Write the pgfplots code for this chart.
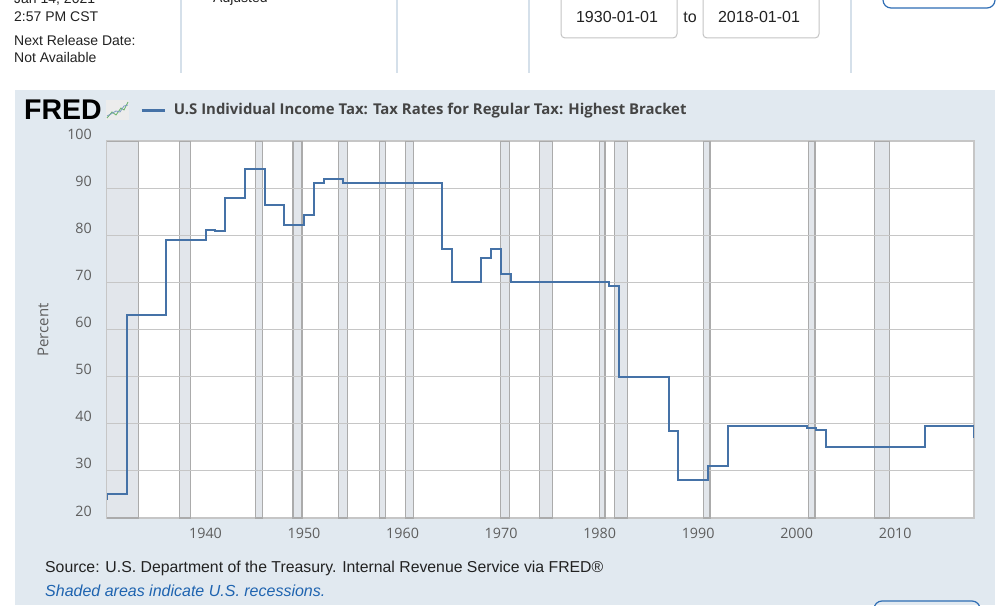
\documentclass[border=0pt]{standalone}
\usepackage{pgfplots}
\pgfplotsset{compat=1.18}
\usepackage{fontspec}
\setmainfont{Open Sans}
\newfontfamily\uifont{Liberation Sans}

\definecolor{fredblue}{HTML}{4572A7}
\definecolor{panelc}{HTML}{E1E9F0}
\definecolor{recfill}{HTML}{E2E6EB}
\definecolor{recedge}{HTML}{ABABAB}
\definecolor{gridc}{HTML}{C6C6C6}
\definecolor{tickc}{HTML}{5E5E5E}
\definecolor{titlec}{HTML}{444444}
\definecolor{sepc}{HTML}{D5E0EA}
\definecolor{boxc}{HTML}{C4C4C4}
\definecolor{btnc}{HTML}{2E6DB4}
\definecolor{notec}{HTML}{1F64B0}
\definecolor{textc}{HTML}{222222}

\pgfplotsset{
  rec/.style={forget plot, fill=recfill, draw=recedge, line width=1.2pt},
  hgrid/.style={forget plot, gridc, line width=1.2pt},
}

\begin{document}
\begin{tikzpicture}[x=1pt, y=1pt]
% page, panel and plot area
\fill[white] (0,0) rectangle (1000,605);
\fill[panelc] (15,0) rectangle (995,515);
\fill[white] (107,87) rectangle (974,464);

\begin{axis}[
    at={(107pt,87pt)}, anchor=south west,
    width=867pt, height=377pt, scale only axis,
    xmin=1930, xmax=2018,
    ymin=20, ymax=100,
    xtick={1940,1950,...,2010},
    ytick={20,30,...,100},
    major tick length=0pt,
    /pgf/number format/assume math mode=true,
    x tick label style={/pgf/number format/1000 sep={}},
    tick label style={font=\fontsize{14.3}{16}\selectfont, text=tickc},
    xticklabel style={inner sep=0pt, anchor=north, yshift=-10pt},
    yticklabel style={inner sep=0pt, anchor=east, xshift=-15pt, yshift=7pt},
    axis line style={gridc, line width=1.2pt},
    ylabel={Percent},
    every axis y label/.style={at={(axis description cs:-0.0738,0.4987)}, rotate=90, anchor=center,
        font=\fontsize{15}{17}\selectfont, text=tickc},
    legend style={at={(axis description cs:0,1)}, anchor=west, xshift=33pt, yshift=31pt,
        draw=none, fill=none, inner sep=0pt, outer sep=0pt,
        nodes={inner sep=0pt, text=titlec, font=\bfseries\fontsize{14.9}{17}\selectfont},
        column sep=8pt},
    legend image code/.code={\draw[fredblue, line width=3pt] (0pt,0pt) -- (23pt,0pt);},
]
% recessions
\addplot[rec] coordinates {(1929.6,20)(1929.6,100)(1933.17,100)(1933.17,20)} -- cycle;
\addplot[rec] coordinates {(1937.37,20)(1937.37,100)(1938.45,100)(1938.45,20)} -- cycle;
\addplot[rec] coordinates {(1945.08,20)(1945.08,100)(1945.75,100)(1945.75,20)} -- cycle;
\addplot[rec] coordinates {(1948.87,20)(1948.87,100)(1949.79,100)(1949.79,20)} -- cycle;
\addplot[rec] coordinates {(1953.5,20)(1953.5,100)(1954.37,100)(1954.37,20)} -- cycle;
\addplot[rec] coordinates {(1957.62,20)(1957.62,100)(1958.29,100)(1958.29,20)} -- cycle;
\addplot[rec] coordinates {(1960.29,20)(1960.29,100)(1961.12,100)(1961.12,20)} -- cycle;
\addplot[rec] coordinates {(1969.92,20)(1969.92,100)(1970.87,100)(1970.87,20)} -- cycle;
\addplot[rec] coordinates {(1973.87,20)(1973.87,100)(1975.21,100)(1975.21,20)} -- cycle;
\addplot[rec] coordinates {(1980.0,20)(1980.0,100)(1980.54,100)(1980.54,20)} -- cycle;
\addplot[rec] coordinates {(1981.5,20)(1981.5,100)(1982.87,100)(1982.87,20)} -- cycle;
\addplot[rec] coordinates {(1990.54,20)(1990.54,100)(1991.21,100)(1991.21,20)} -- cycle;
\addplot[rec] coordinates {(2001.17,20)(2001.17,100)(2001.87,100)(2001.87,20)} -- cycle;
\addplot[rec] coordinates {(2007.92,20)(2007.92,100)(2009.46,100)(2009.46,20)} -- cycle;

% horizontal grid, drawn over the shading
\addplot[hgrid] coordinates {(1930,30)(2018,30)};
\addplot[hgrid] coordinates {(1930,40)(2018,40)};
\addplot[hgrid] coordinates {(1930,50)(2018,50)};
\addplot[hgrid] coordinates {(1930,60)(2018,60)};
\addplot[hgrid] coordinates {(1930,70)(2018,70)};
\addplot[hgrid] coordinates {(1930,80)(2018,80)};
\addplot[hgrid] coordinates {(1930,90)(2018,90)};

% top marginal rate, yearly
\addplot[fredblue, line width=2pt, const plot] coordinates {
(1929,24)(1930,25)(1931,25)(1932,63)(1933,63)(1934,63)(1935,63)(1936,79)(1937,79)(1938,79)(1939,79)
(1940,81.1)(1941,81)(1942,88)(1943,88)(1944,94)(1945,94)(1946,86.45)(1947,86.45)(1948,82.13)(1949,82.13)
(1950,84.36)(1951,91)(1952,92)(1953,92)(1954,91)(1955,91)(1956,91)(1957,91)(1958,91)(1959,91)
(1960,91)(1961,91)(1962,91)(1963,91)(1964,77)(1965,70)(1966,70)(1967,70)(1968,75.25)(1969,77)
(1970,71.75)(1971,70)(1972,70)(1973,70)(1974,70)(1975,70)(1976,70)(1977,70)(1978,70)(1979,70)
(1980,70)(1981,69.13)(1982,50)(1983,50)(1984,50)(1985,50)(1986,50)(1987,38.5)(1988,28)(1989,28)
(1990,28)(1991,31)(1992,31)(1993,39.6)(1994,39.6)(1995,39.6)(1996,39.6)(1997,39.6)(1998,39.6)(1999,39.6)
(2000,39.6)(2001,39.1)(2002,38.6)(2003,35)(2004,35)(2005,35)(2006,35)(2007,35)(2008,35)(2009,35)
(2010,35)(2011,35)(2012,35)(2013,39.6)(2014,39.6)(2015,39.6)(2016,39.6)(2017,39.6)(2018,37)
};
\addlegendentry{U.S Individual Income Tax: Tax Rates for Regular Tax: Highest Bracket}
\end{axis}

% page header
\foreach \sx in {181,397,529,851} {\draw[sepc, line width=1.5pt] (\sx,605) -- (\sx,532);}
\begin{scope}[every node/.style={anchor=west, inner sep=0pt, text=textc, font=\uifont\fontsize{14}{16}\selectfont}]
\node at (14,605) {Jan 14, 2021};
\node at (14,588) {2:57 PM CST};
\node at (14,564) {Next Release Date:};
\node at (14,547) {Not Available};
\node at (213,606) {Adjusted};
\end{scope}
\draw[boxc, fill=white, rounded corners=4pt, line width=1pt] (561,615) rectangle (677,567);
\draw[boxc, fill=white, rounded corners=4pt, line width=1pt] (703,615) rectangle (819,567);
\begin{scope}[every node/.style={inner sep=0pt, text=textc, font=\uifont\fontsize{16}{18}\selectfont}]
\node at (617,588) {1930-01-01};
\node at (690,588) {to};
\node at (759,588) {2018-01-01};
\end{scope}
\draw[btnc, rounded corners=8pt, line width=1.2pt] (883,640) rectangle (995,597);
\draw[btnc, rounded corners=8pt, line width=1.2pt] (874,4) rectangle (980,-30);

% FRED logo
\node[anchor=west, inner sep=0pt, font=\uifont\bfseries\fontsize{28.5}{30}\selectfont, text=black] at (24,495) {FRED};
\fill[white!85!gray] (106,485) rectangle (129,505);
\draw[green!50!black!60, line width=0.8pt] (107,487) -- (112,493) -- (116,490) -- (121,497) -- (124,495) -- (128,503);
\draw[fredblue!70, line width=0.8pt] (107,489) -- (111,491) -- (116,494) -- (120,493) -- (124,499) -- (128,500);

% source notes
\node[anchor=west, inner sep=0pt, text=textc, font=\uifont\fontsize{15.8}{18}\selectfont] at (45,37)
  {Source: U.S. Department of the Treasury. Internal Revenue Service via FRED®};
\node[anchor=west, inner sep=0pt, text=notec, font=\uifont\itshape\fontsize{16}{18}\selectfont] at (45,14)
  {Shaded areas indicate U.S. recessions.};

\pgfresetboundingbox
\useasboundingbox (0,0) rectangle (1000,605);
\end{tikzpicture}
\end{document}
